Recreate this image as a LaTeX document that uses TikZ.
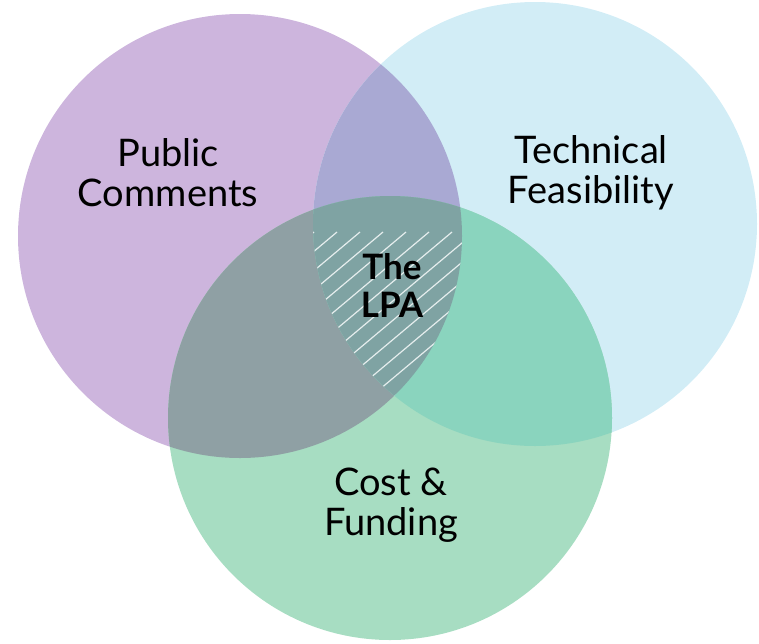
\documentclass[tikz,border=0pt]{standalone}
\usepackage{fontspec}
\setmainfont{Lato}
\definecolor{cpur}{HTML}{CDB5DD}
\definecolor{cblu}{HTML}{D2EDF6}
\definecolor{cgrn}{HTML}{A7DDC2}
\definecolor{cpb}{HTML}{A9A9D3}
\definecolor{cpg}{HTML}{8FA0A4}
\definecolor{cbg}{HTML}{8AD4BE}
\definecolor{cpbg}{HTML}{7FA3A3}
\begin{document}
\begin{tikzpicture}[x=1pt,y=-1pt,
  lbl/.style={font=\fontsize{38}{40}\selectfont, align=center, text=black},
  lblb/.style={font=\fontsize{35}{38}\selectfont\bfseries, align=center, text=black}]
\useasboundingbox (0,0) rectangle (759,643);
\coordinate (P) at (240,236);
\coordinate (B) at (535,224);
\coordinate (G) at (390,418);
\def\rr{222}
% base circles
\fill[cpur] (P) circle (\rr);
\fill[cblu] (B) circle (\rr);
\fill[cgrn] (G) circle (\rr);
% pairwise overlaps
\begin{scope}
  \clip (P) circle (\rr);
  \fill[cpb] (B) circle (\rr);
\end{scope}
\begin{scope}
  \clip (P) circle (\rr);
  \fill[cpg] (G) circle (\rr);
\end{scope}
\begin{scope}
  \clip (B) circle (\rr);
  \fill[cbg] (G) circle (\rr);
\end{scope}
% triple overlap with hatching
\begin{scope}
  \clip (P) circle (\rr);
  \clip (B) circle (\rr);
  \fill[cpbg] (G) circle (\rr);
  \clip (G) circle (\rr);
  \foreach \k in {-16,...,16}
    \draw[white!80!cpbg, line width=1.2pt] (390+\k*23-200,400+168) -- (390+\k*23+200,400-168);
\end{scope}
% labels
\node[lbl] (pc) at (168,173) {Public\\Comments};
\node[lbl] (tf) at (591,173) {Technical\\Feasibility};
\node[lbl] (cf) at (391,505) {Cost \&\\Funding};
\node[lblb] (lpa) at (392,285) {The\\LPA};
\end{tikzpicture}
\end{document}
